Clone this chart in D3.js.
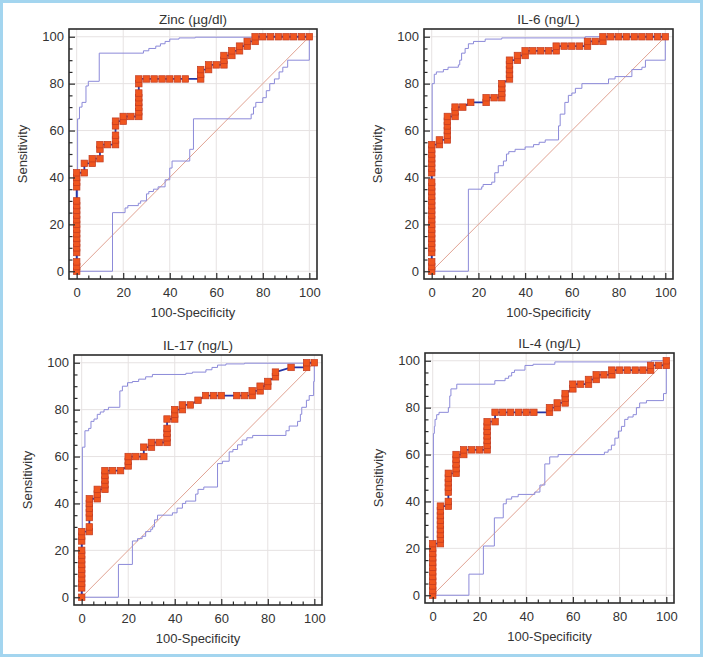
<!DOCTYPE html>
<html><head><meta charset="utf-8">
<script src="https://cdn.jsdelivr.net/npm/d3@7"></script>
<style>body{margin:0;background:#fff}svg{display:block}text{font-family:"Liberation Sans",Arial,sans-serif;fill:#333}</style>
</head><body><svg id="c" width="703" height="657"></svg>
<script>
const titles = ["Zinc (µg/dl)", "IL-6 (ng/L)", "IL-17 (ng/L)", "IL-4 (ng/L)"];
const xLabel = "100-Specificity", yLabel = "Sensitivity";
const majorTicks = [0,20,40,60,80,100];
const minorTicks = [5,10,15,25,30,35,45,50,55,65,70,75,85,90,95];

const zincROC = [[0,0],[0,2],[0,4],[0,8],[0,10],[0,12],[0,14],[0,16],[0,18],[0,20],[0,22],[0,24],[0,26],[0,28],[0,30],[0,36],[0,38],[0,40],[0,42],
[3.3,42],[3.3,46],[6.7,46],[6.7,48],[10,48],[10,52],[10,54],[13.3,54],[16.7,54],[16.7,56],[16.7,58],[16.7,62],[16.7,64],[20,64],[20,66],[23.3,66],[26.7,66],[26.7,68],[26.7,70],[26.7,72],[26.7,74],[26.7,76],[26.7,80],[26.7,82],[30,82],[33.3,82],[36.7,82],[40,82],[43.3,82],[46.7,82],[53.3,82],[53.3,84],[53.3,86],[56.7,86],[56.7,88],[60,88],[63.3,88],[63.3,90],[63.3,92],[66.7,92],[66.7,94],[70,94],[70,96],[73.3,96],[73.3,98],[76.7,98],[76.7,100],[80,100],[83.3,100],[86.7,100],[90,100],[93.3,100],[96.7,100],[100,100]];
const zincUpper = [[0,0],[0.4,65],[1.2,70],[2.3,72],[4,79],[5,81],[9.7,93],[28.7,94],[31,95],[34,96],[36,97],[38,98],[40,99],[44,99.5],[51,99.8],[75.7,100],[100,100]];
const zincLower = [[0,0],[15.4,25],[20.8,27],[22,28],[26.5,29],[27.5,30],[30,33],[31,34],[33,35],[35,36],[38,39],[40,44],[41,47],[48.6,52],[50.2,65],[75,67],[76,70],[77,72],[80,74],[81.5,77],[83,80],[85,82],[87,85],[88.6,87],[90.7,90],[100,100]];

const il6ROC = [[0,0],[0,2],[0,4],[0,8],[0,10],[0,12],[0,14],[0,16],[0,18],[0,20],[0,22],[0,24],[0,26],[0,28],[0,30],[0,32],[0,34],[0,36],[0,38],[0,42],[0,44],[0,46],[0,48],[0,50],[0,52],[0,54],
[3.3,54],[3.3,56],[6.7,56],[6.7,58],[6.7,60],[6.7,62],[6.7,64],[6.7,66],[10,66],[10,68],[10,70],[13.3,70],[16.7,72],[23.3,72],[23.3,74],[26.7,74],[30,74],[30,76],[30,78],[30,80],[33.3,82],[33.3,84],[33.3,86],[33.3,88],[33.3,90],[36.7,90],[36.7,92],[40,92],[40,94],[43.3,94],[46.7,94],[50,94],[53.3,94],[53.3,96],[56.7,96],[60,96],[63.3,96],[66.7,96],[66.7,98],[70,98],[73.3,98],[73.3,100],[76.7,100],[80,100],[83.3,100],[86.7,100],[90,100],[93.3,100],[96.7,100],[100,100]];
const il6Upper = [[0,0],[0.2,80],[1.1,84],[2,85],[5,86],[7,87],[11.4,88],[12,90],[12.8,93],[14.3,95],[15.7,97],[17.9,98],[22.9,99],[30,99.5],[65.7,100],[100,100]];
const il6Lower = [[0,0],[15.7,35],[21.4,36],[22,37],[25.7,38],[27,42],[28.5,45],[30.7,47],[32,50],[33,51],[35.7,52],[40,53],[43.6,54],[46,55],[48.6,56],[54.3,62],[55,67],[57,72],[58.5,75],[60,76],[61.5,78],[64.3,80],[75.7,82],[78.5,83],[85.7,86],[90,87],[91.5,90],[100,100]];

const il17ROC = [[0,0],[0,4],[0,6],[0,8],[0,10],[0,12],[0,14],[0,16],[0,18],[0,20],[0,24],[0,26],[0,28],[3.3,28],[3.3,30],[3.3,34],[3.3,36],[3.3,38],[3.3,40],[3.3,42],[6.7,42],[6.7,44],[6.7,46],[10,46],[10,48],[10,50],[10,52],[10,54],[13.3,54],[16.7,54],[20,56],[20,58],[20,60],[23.3,60],[26.7,60],[26.7,64],[30,64],[30,66],[33.3,66],[36.7,66],[36.7,68],[36.7,70],[36.7,72],[36.7,76],[40,76],[40,78],[40,80],[43.3,80],[43.3,82],[46.7,82],[50,84],[53.3,86],[56.7,86],[60,86],[66.7,86],[70,86],[73.3,86],[73.3,88],[76.7,88],[76.7,90],[80,90],[80,92],[83.3,94],[83.3,96],[90,98],[96.7,98],[96.7,100],[100,100]];
const il17Upper = [[0,0],[0.3,64],[1.4,71],[3,72],[4,75],[5.3,76],[6.7,78],[8,79],[9.6,80],[11.5,81],[16.4,88],[17.5,90],[19.7,91.5],[21.8,92],[24.5,93],[27.5,94],[30.4,95],[44.8,95.5],[47.6,96],[53.4,97],[56,98],[58.4,99],[62,99.5],[70,99.8],[100,100]];
const il17Lower = [[0,0],[15.8,14],[21.8,24],[24,25],[26,26],[27.5,28],[29.7,29],[30.5,30],[31.3,33],[32.6,35],[39,36],[41,38],[43.3,40],[44.7,41],[49,44],[50,46],[52.5,47],[58.4,57],[60.5,58],[63.4,62],[65,63],[67,65],[69,67],[71,68],[73.5,69],[87.8,71],[89.2,73],[92.8,75],[94,78],[94.6,81],[96.6,84],[97.8,86],[99.7,92],[100,100]];

const il4ROC = [[0,0],[0,2],[0,4],[0,6],[0,8],[0,10],[0,12],[0,14],[0,16],[0,18],[0,20],[0,22],[3.3,22],[3.3,24],[3.3,26],[3.3,28],[3.3,30],[3.3,32],[3.3,34],[3.3,36],[3.3,38],[6.7,38],[6.7,40],[6.7,44],[6.7,46],[6.7,48],[6.7,50],[6.7,52],[10,52],[10,54],[10,56],[10,58],[10,60],[13.3,60],[13.3,62],[16.7,62],[20,62],[23.3,62],[23.3,64],[23.3,66],[23.3,68],[23.3,70],[23.3,72],[23.3,74],[26.7,74],[26.7,78],[30,78],[33.3,78],[36.7,78],[40,78],[43.3,78],[50,78],[50,80],[53.3,80],[53.3,82],[56.7,82],[56.7,84],[56.7,86],[60,88],[60,90],[63.3,90],[66.7,90],[66.7,92],[70,92],[70,94],[73.3,94],[76.7,94],[76.7,96],[80,96],[83.3,96],[86.7,96],[90,96],[93.3,96],[93.3,98],[96.7,98],[100,98],[100,100]];
const il4Upper = [[0,0],[0.3,69],[0.7,72],[1,75],[1.7,77],[2.7,78],[6.7,80],[7.3,85],[7.8,88],[10.3,90],[26.6,91.5],[31,92.5],[32.5,93.5],[33.8,95],[35,96],[39.5,98],[43,98.5],[52.3,99.5],[93.6,100],[100,100]];
const il4Lower = [[0,0],[15.5,9],[21.7,21],[26.4,33],[30.2,39],[31.5,41],[33.8,42],[36.6,43],[43.7,44],[45.9,47],[48,56],[50.1,59],[53.7,60],[73.5,61],[75.1,62],[76.5,64],[78,67],[79.5,70],[80.8,72],[82.2,75],[83.6,76],[85.8,77],[87.2,80],[88.6,82],[91.5,83],[98.8,86],[100,100]];

const rocSets = [zincROC, il6ROC, il17ROC, il4ROC];
const upperSets = [zincUpper, il6Upper, il17Upper, il4Upper];
const lowerSets = [zincLower, il6Lower, il17Lower, il4Lower];

// layout: frame boxes [left, top, right, bottom]
const frames = [[69,29,317,279],[424,29,673,279],[74,355,322,605],[425,353,674,603]];

const svg = d3.select("#c");
svg.append("rect").attr("x",1.5).attr("y",1.5).attr("width",700).attr("height",654)
  .attr("fill","#fff").attr("stroke","#a3d5ef").attr("stroke-width",3);

titles.forEach((title, i) => {
  const [l,t,r,b] = frames[i];
  const x = d3.scaleLinear().domain([-3.3,103.3]).range([l,r]);
  const y = d3.scaleLinear().domain([-3.3,103.3]).range([b,t]);
  const g = svg.append("g");
  g.append("rect").attr("x",l).attr("y",t).attr("width",r-l).attr("height",b-t).attr("fill","#fff");
  // grid
  g.selectAll(".gx").data(majorTicks).join("line").attr("x1",d=>x(d)).attr("x2",d=>x(d)).attr("y1",t).attr("y2",b)
    .attr("stroke","#e6e2e2").attr("stroke-width",1);
  g.selectAll(".gy").data(majorTicks).join("line").attr("y1",d=>y(d)).attr("y2",d=>y(d)).attr("x1",l).attr("x2",r)
    .attr("stroke","#e6e2e2").attr("stroke-width",1);
  // diagonal
  g.append("path").attr("d",d3.line().x(d=>x(d[0])).y(d=>y(d[1]))([[0,0],[100,100]]))
    .attr("fill","none").attr("stroke","#e0a292").attr("stroke-width",1);
  // confidence bands
  const step = d3.line().x(d=>x(d[0])).y(d=>y(d[1])).curve(d3.curveStepAfter);
  [upperSets[i], lowerSets[i]].forEach(band => {
    g.append("path").attr("d",step(band)).attr("fill","none").attr("stroke","#8c8ad9").attr("stroke-width",1);
  });
  // ROC line
  const line = d3.line().x(d=>x(d[0])).y(d=>y(d[1]));
  g.append("path").attr("d",line(rocSets[i])).attr("fill","none").attr("stroke","#2536a6").attr("stroke-width",1.8);
  // markers
  const s = 6.5;
  g.selectAll(".m").data(rocSets[i]).join("rect")
    .attr("x",d=>x(d[0])-s/2).attr("y",d=>y(d[1])-s/2).attr("width",s).attr("height",s)
    .attr("fill","#f0561f").attr("stroke","#c03a20").attr("stroke-width",0.7);
  // frame
  g.append("rect").attr("x",l).attr("y",t).attr("width",r-l).attr("height",b-t)
    .attr("fill","none").attr("stroke","#2b2b2b").attr("stroke-width",1.6);
  // axes
  g.append("g").attr("transform",`translate(0,${b})`)
    .call(d3.axisBottom(x).tickValues(majorTicks).tickSize(-6).tickPadding(9).tickFormat(d3.format("d")));
  g.append("g").attr("transform",`translate(0,${b})`)
    .call(d3.axisBottom(x).tickValues(minorTicks).tickSize(-3.5).tickFormat(""));
  g.append("g").attr("transform",`translate(${l},0)`)
    .call(d3.axisLeft(y).tickValues(majorTicks).tickSize(-6).tickPadding(5).tickFormat(d3.format("d")));
  g.append("g").attr("transform",`translate(${l},0)`)
    .call(d3.axisLeft(y).tickValues(minorTicks).tickSize(-3.5).tickFormat(""));
  g.selectAll(".domain").remove();
  g.selectAll(".tick line").attr("stroke","#2b2b2b").attr("stroke-width",1.2);
  g.selectAll(".tick text").attr("font-size",13).attr("font-family","Liberation Sans, Arial, sans-serif").attr("fill","#333");
  // titles
  g.append("text").attr("x",(l+r)/2).attr("y",t-5).attr("text-anchor","middle").attr("font-size",13.5).text(title);
  g.append("text").attr("x",(l+r)/2).attr("y",b+38).attr("text-anchor","middle").attr("font-size",13).text(xLabel);
  g.append("text").attr("transform",`translate(${l-42},${(t+b)/2}) rotate(-90)`).attr("text-anchor","middle").attr("font-size",13).text(yLabel);
});
</script></body></html>
